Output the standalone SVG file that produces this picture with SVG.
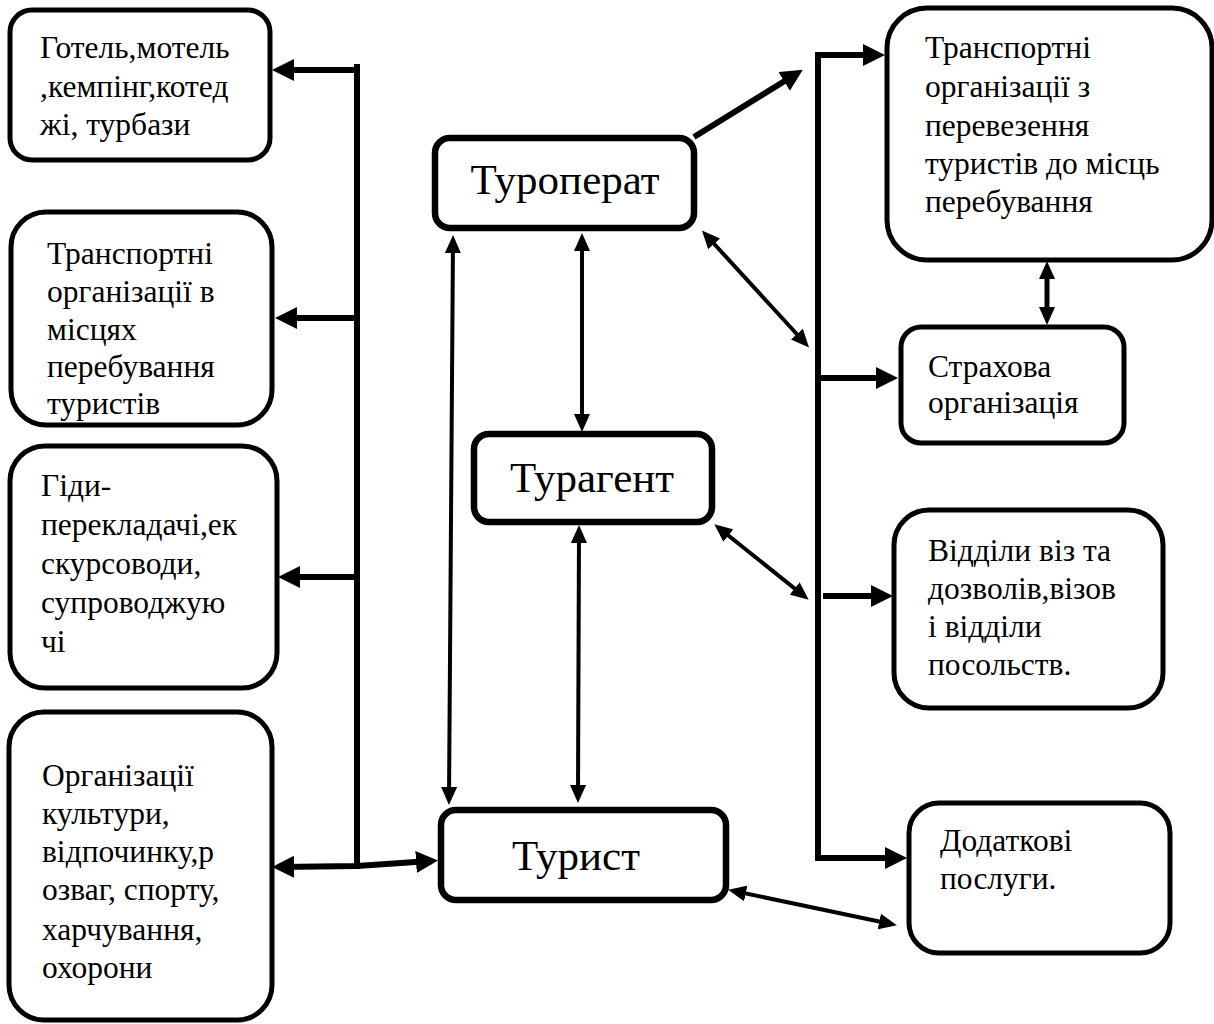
<svg xmlns="http://www.w3.org/2000/svg" width="1214" height="1024" viewBox="0 0 1214 1024">
<style>
.box{fill:#fff;stroke:#000;stroke-width:5}
.cbox{fill:#fff;stroke:#000;stroke-width:6.5}
.t{font-family:"Liberation Serif","Times New Roman",serif;font-size:31.5px;fill:#000}
.big{font-family:"Liberation Serif","Times New Roman",serif;font-size:43px;fill:#000;text-anchor:middle}
.thick{fill:none;stroke:#000;stroke-width:6;marker-end:url(#ah)}
.thin{fill:none;stroke:#000;stroke-width:4}
</style>
<defs>
<marker id="ah" markerWidth="22" markerHeight="22" refX="14" refY="11" orient="auto-start-reverse" markerUnits="userSpaceOnUse"><path d="M0,0 L22,11 L0,22 z" fill="#000"/></marker>
<marker id="as" markerWidth="18" markerHeight="16" refX="12" refY="8" orient="auto-start-reverse" markerUnits="userSpaceOnUse"><path d="M0,0 L18,8 L0,16 z" fill="#000"/></marker>
</defs>
<g id="n1"><rect class="box" x="10" y="10" width="260" height="150" rx="22"/>
<text class="t"><tspan x="40" y="58">Готель,мотель</tspan><tspan x="40" y="97">,кемпінг,котед</tspan><tspan x="40" y="135">жі, турбази</tspan></text></g>
<g id="n2"><rect class="box" x="11" y="212" width="261" height="213" rx="35"/>
<text class="t"><tspan x="47" y="264">Транспортні</tspan><tspan x="47" y="302">організації в</tspan><tspan x="47" y="340">місцях</tspan><tspan x="47" y="377">перебування</tspan><tspan x="47" y="414">туристів</tspan></text></g>
<g id="n3"><rect class="box" x="10" y="446" width="267" height="242" rx="35"/>
<text class="t"><tspan x="41" y="496">Гіди-</tspan><tspan x="41" y="535">перекладачі,ек</tspan><tspan x="41" y="574">скурсоводи,</tspan><tspan x="41" y="613">супроводжую</tspan><tspan x="41" y="652">чі</tspan></text></g>
<g id="n4"><rect class="box" x="9" y="712" width="263" height="308" rx="35"/>
<text class="t"><tspan x="42" y="786">Організації</tspan><tspan x="42" y="824">культури,</tspan><tspan x="42" y="862">відпочинку,р</tspan><tspan x="42" y="900">озваг, спорту,</tspan><tspan x="42" y="940">харчування,</tspan><tspan x="42" y="978">охорони</tspan></text></g>
<g id="touroperator"><rect class="cbox" x="435" y="138" width="259" height="90" rx="15"/>
<text class="big" x="565" y="194">Туроперат</text></g>
<g id="touragent"><rect class="cbox" x="474" y="434" width="238" height="88" rx="15"/>
<text class="big" x="592" y="492">Турагент</text></g>
<g id="tourist"><rect class="cbox" x="441" y="810" width="285" height="90" rx="15"/>
<text class="big" x="576" y="870">Турист</text></g>
<g id="n5"><rect class="box" x="887" y="8" width="325" height="252" rx="40"/>
<text class="t"><tspan x="925" y="58">Транспортні</tspan><tspan x="925" y="97">організації з</tspan><tspan x="925" y="136">перевезення</tspan><tspan x="925" y="174">туристів до місць</tspan><tspan x="925" y="212">перебування</tspan></text></g>
<g id="n6"><rect class="box" x="901" y="327" width="223" height="116" rx="20"/>
<text class="t"><tspan x="928" y="377">Страхова</tspan><tspan x="928" y="413">організація</tspan></text></g>
<g id="n7"><rect class="box" x="894" y="510" width="269" height="198" rx="35"/>
<text class="t"><tspan x="928" y="561">Відділи віз та</tspan><tspan x="928" y="599">дозволів,візов</tspan><tspan x="928" y="637">і відділи</tspan><tspan x="928" y="675">посольств.</tspan></text></g>
<g id="n8"><rect class="box" x="909" y="803" width="261" height="150" rx="30"/>
<text class="t"><tspan x="940" y="851">Додаткові</tspan><tspan x="940" y="889">послуги.</tspan></text></g>
<g id="connectors">
<line x1="357" y1="64" x2="357" y2="869" stroke="#000" stroke-width="6"/>
<line class="thick" x1="357" y1="70" x2="280" y2="70"/>
<line class="thick" x1="357" y1="318" x2="283" y2="318"/>
<line class="thick" x1="357" y1="577" x2="286" y2="577"/>
<polyline class="thick" points="280,867 357,866 430,861" style="marker-start:url(#ah)"/>
<line class="thick" x1="694" y1="137" x2="796" y2="74"/>
<polyline class="thick" points="877,55 818,55 818,858 899,858" style="marker-start:url(#ah)"/>
<line class="thick" x1="821" y1="378" x2="890" y2="378"/>
<line class="thick" x1="823" y1="596" x2="885" y2="596"/>
<g class="thin" style="marker-start:url(#as);marker-end:url(#as)">
<line x1="453" y1="241" x2="449" y2="799"/>
<line x1="582" y1="239" x2="582" y2="426"/>
<line x1="579" y1="531" x2="578" y2="797"/>
<line x1="706" y1="235" x2="805" y2="343"/>
<line x1="719" y1="528" x2="804" y2="596"/>
<line x1="1047" y1="267" x2="1047" y2="319" stroke-width="5"/>
<line x1="734" y1="891" x2="891" y2="924"/>
</g>
</g>
</svg>
